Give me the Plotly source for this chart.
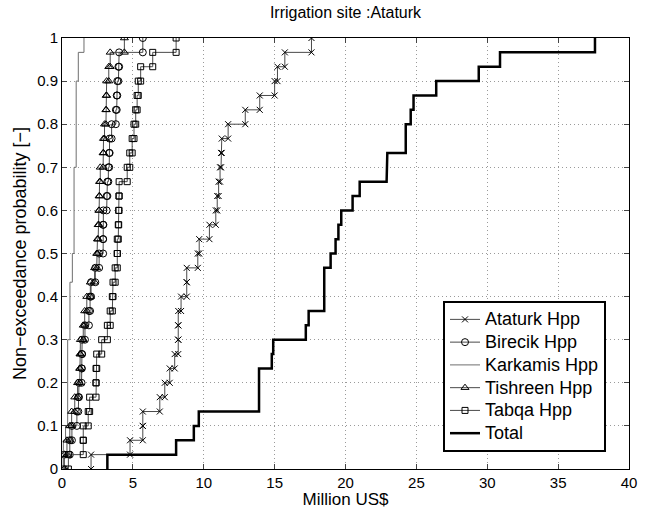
import plotly.graph_objects as go

# Sorted sample values (Million US$) for each ECDF, n = 30
ataturk = [2.05, 4.8, 5.7, 5.7, 6.9, 7.25, 7.6, 7.95, 8.2, 8.2, 8.2, 8.4, 8.8, 8.8, 9.58,
           9.68, 10.4, 10.85, 10.95, 11.05, 11.15, 11.22, 11.27, 11.72, 12.93, 13.95, 15.0, 15.2, 15.72, 17.6]
birecik = [0.15, 0.55, 0.7, 1.05, 1.15, 1.2, 1.38, 1.4, 1.42, 1.62, 1.9, 1.98, 2.05, 2.35, 2.62,
           2.9, 2.9, 2.92, 3.15, 3.2, 3.27, 3.33, 3.36, 3.5, 3.8, 3.86, 3.9, 3.98, 4.03, 5.7]
karkamis = [0.08, 0.1, 0.25, 0.4, 0.4, 0.4, 0.4, 0.4, 0.4, 0.56, 0.56, 0.56, 0.56, 0.73, 0.73,
            0.85, 0.85, 0.85, 0.85, 0.85, 0.85, 1.0, 1.0, 1.0, 1.0, 1.0, 1.0, 1.15, 1.15, 1.55]
tishreen = [0.15, 0.35, 0.55, 0.68, 0.9, 1.1, 1.25, 1.27, 1.3, 1.5, 1.6, 1.75, 2.0, 2.3, 2.45,
            2.5, 2.55, 2.6, 2.62, 2.65, 2.7, 2.9, 2.93, 3.0, 3.1, 3.12, 3.15, 3.3, 3.4, 4.4]
tabqa = [0.45, 1.5, 1.5, 1.85, 1.95, 2.4, 2.4, 2.45, 2.8, 3.2, 3.4, 3.55, 3.6, 3.75, 3.9,
         3.9, 3.97, 4.0, 4.02, 4.03, 4.6, 4.78, 4.95, 5.08, 5.2, 5.3, 5.38, 5.55, 6.4, 8.05]
total = [3.2, 8.05, 9.3, 9.65, 13.9, 13.9, 13.9, 14.8, 14.9, 17.2, 17.4, 18.5, 18.5, 18.5, 18.95,
         19.3, 19.5, 19.7, 20.5, 21.0, 22.9, 22.95, 24.25, 24.25, 24.6, 24.8, 26.4, 29.4, 30.9, 37.6]

series_names = ["Ataturk Hpp", "Birecik Hpp", "Karkamis Hpp", "Tishreen Hpp", "Tabqa Hpp", "Total"]
x_ticks = [0, 5, 10, 15, 20, 25, 30, 35, 40]
y_ticks = [0, 0.1, 0.2, 0.3, 0.4, 0.5, 0.6, 0.7, 0.8, 0.9, 1]


def stairs(values):
    n = len(values)
    xs, ys = [], []
    for k, v in enumerate(values):
        xs += [v, v]
        ys += [k / n, (k + 1) / n]
    return xs, ys


styles = [
    dict(symbol="x-thin-open", lc="#4a4a4a", lw=1, size=6),
    dict(symbol="circle-open", lc="#4a4a4a", lw=1, size=7),
    dict(symbol=None, lc="#6e6e6e", lw=1, size=0),
    dict(symbol="triangle-up-open", lc="#4a4a4a", lw=1, size=7),
    dict(symbol="square-open", lc="#4a4a4a", lw=1, size=6),
    dict(symbol=None, lc="black", lw=2.5, size=0),
]
data = [ataturk, birecik, karkamis, tishreen, tabqa, total]

fig = go.Figure()
for name, vals, st in zip(series_names, data, styles):
    xs, ys = stairs(vals)
    label = '<span style="font-size:18px">' + name + '</span>'
    if st["symbol"]:
        fig.add_trace(go.Scatter(
            x=xs, y=ys, mode="lines+markers", name=label,
            line=dict(color=st["lc"], width=st["lw"]),
            marker=dict(symbol=st["symbol"], size=st["size"], color="black",
                        line=dict(color="black", width=1)),
        ))
    else:
        fig.add_trace(go.Scatter(
            x=xs, y=ys, mode="lines", name=label,
            line=dict(color=st["lc"], width=st["lw"]),
        ))

font = "Liberation Sans, Arial, Helvetica, sans-serif"
L, R, T, B = 62, 20, 38, 40
fig.update_layout(
    width=649, height=509,
    margin=dict(l=L, r=R, t=T, b=B),
    paper_bgcolor="white", plot_bgcolor="white",
    font=dict(family=font, size=15, color="black"),
    title=dict(text="Irrigation site :Ataturk", x=(L + 649 - R) / 2 / 649, xanchor="center",
               y=1 - 12 / 509, yanchor="middle", font=dict(size=16)),
    showlegend=True,
    legend=dict(x=(606 - L) / (649 - L - R), y=(469 - 452) / (509 - T - B),
                xanchor="right", yanchor="bottom",
                bordercolor="black", borderwidth=2, bgcolor="white",
                font=dict(size=15.2), tracegroupgap=0, itemwidth=30),
    xaxis=dict(range=[0, 40], tickvals=x_ticks, ticks="inside", ticklen=5,
               showline=True, linecolor="black", linewidth=1, mirror="ticks",
               showgrid=True, gridcolor="#9a9a9a", griddash="1px,3px", gridwidth=1,
               zeroline=False, automargin=False,
               title=dict(text="Million US$", standoff=0, font=dict(size=17))),
    yaxis=dict(range=[0, 1], tickvals=y_ticks, ticks="inside", ticklen=5,
               showline=True, linecolor="black", linewidth=1, mirror="ticks",
               showgrid=True, gridcolor="#9a9a9a", griddash="1px,3px", gridwidth=1,
               zeroline=False, automargin=False,
               title=dict(text="Non\u2212exceedance probability [\u2212]", standoff=5, font=dict(size=18))),
)

fig.write_html("out.html", config={"displayModeBar": False},
               post_script="document.body.style.margin='0px';")
